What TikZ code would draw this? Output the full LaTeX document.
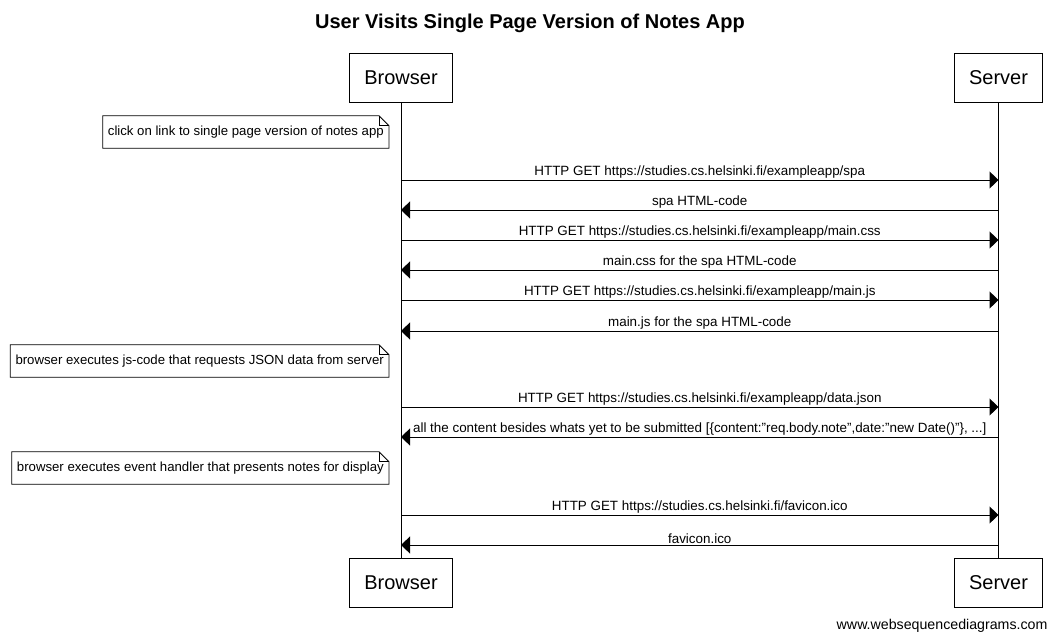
\documentclass[tikz,border=0pt]{standalone}
\usepackage{fontspec}
\setmainfont{Liberation Sans}
\usetikzlibrary{arrows.meta}

\tikzset{
	actor/.style={draw,line width=1pt,inner xsep=15pt,minimum height=49pt,font=\fontsize{20}{24}\selectfont},
	notetext/.style={anchor=east,inner xsep=5pt,minimum height=32pt,font=\fontsize{13.2}{15}\selectfont},
	notebox/.style={draw,line width=0.8pt},
	msg/.style={line width=1pt,-{Triangle[length=9pt,width=17pt]}},
	msglabel/.style={midway,above,inner sep=1pt,font=\fontsize{13.4}{15}\selectfont}
}

\begin{document}
\begin{tikzpicture}[x=1pt,y=-1pt]
	\useasboundingbox (0,0) rectangle (1057,641);

	\node[font=\bfseries\fontsize{20}{23}\selectfont] (title) at (530,23) {User Visits Single Page Version of Notes App};

	% participants
	\node[actor] (browser) at (401,77.5) {Browser};
	\node[actor] (server) at (998.5,77.5) {Server};
	\node[actor] (browserEnd) at (401,582.5) {Browser};
	\node[actor] (serverEnd) at (998.5,582.5) {Server};
	\draw[line width=1pt] (browser.south) -- (browserEnd.north);
	\draw[line width=1pt] (server.south) -- (serverEnd.north);

	% notes
	\def\NOTEFOLD{10}
	\node[notetext] (noteA) at (389,132) {click on link to single page version of notes app};
	\node[notetext] (noteB) at (389,361) {browser executes js-code that requests JSON data from server};
	\node[notetext] (noteC) at (389,468) {browser executes event handler that presents notes for display};
	\foreach \n in {noteA,noteB,noteC} {
		\draw[notebox] (\n.north west) -- ([xshift=-\NOTEFOLD pt]\n.north east) -- ([yshift=-\NOTEFOLD pt]\n.north east) -- (\n.south east) -- (\n.south west) -- cycle;
		\draw[notebox] ([xshift=-\NOTEFOLD pt]\n.north east) -- ([xshift=-\NOTEFOLD pt,yshift=-\NOTEFOLD pt]\n.north east) -- ([yshift=-\NOTEFOLD pt]\n.north east);
	}

	% messages
	\draw[msg] (browser |- 0,180) -- (server |- 0,180) node[msglabel] {HTTP GET https://studies.cs.helsinki.fi/exampleapp/spa};
	\draw[msg] (server |- 0,210) -- (browser |- 0,210) node[msglabel] {spa HTML-code};
	\draw[msg] (browser |- 0,240) -- (server |- 0,240) node[msglabel] {HTTP GET https://studies.cs.helsinki.fi/exampleapp/main.css};
	\draw[msg] (server |- 0,270) -- (browser |- 0,270) node[msglabel] {main.css for the spa HTML-code};
	\draw[msg] (browser |- 0,300) -- (server |- 0,300) node[msglabel] {HTTP GET https://studies.cs.helsinki.fi/exampleapp/main.js};
	\draw[msg] (server |- 0,331) -- (browser |- 0,331) node[msglabel] {main.js for the spa HTML-code};
	\draw[msg] (browser |- 0,407) -- (server |- 0,407) node[msglabel] {HTTP GET https://studies.cs.helsinki.fi/exampleapp/data.json};
	\draw[msg] (server |- 0,437) -- (browser |- 0,437) node[msglabel] {all the content besides whats yet to be submitted [\{content:\symbol{34}req.body.note\symbol{34},date:\symbol{34}new Date()\symbol{34}\}, ...]};
	\draw[msg] (browser |- 0,515) -- (server |- 0,515) node[msglabel] {HTTP GET https://studies.cs.helsinki.fi/favicon.ico};
	\draw[msg] (server |- 0,545) -- (browser |- 0,545) node[msglabel] {favicon.ico};

	\node[anchor=east,font=\fontsize{14.2}{16}\selectfont] (footer) at (1051,626) {www.websequencediagrams.com};
\end{tikzpicture}
\end{document}
